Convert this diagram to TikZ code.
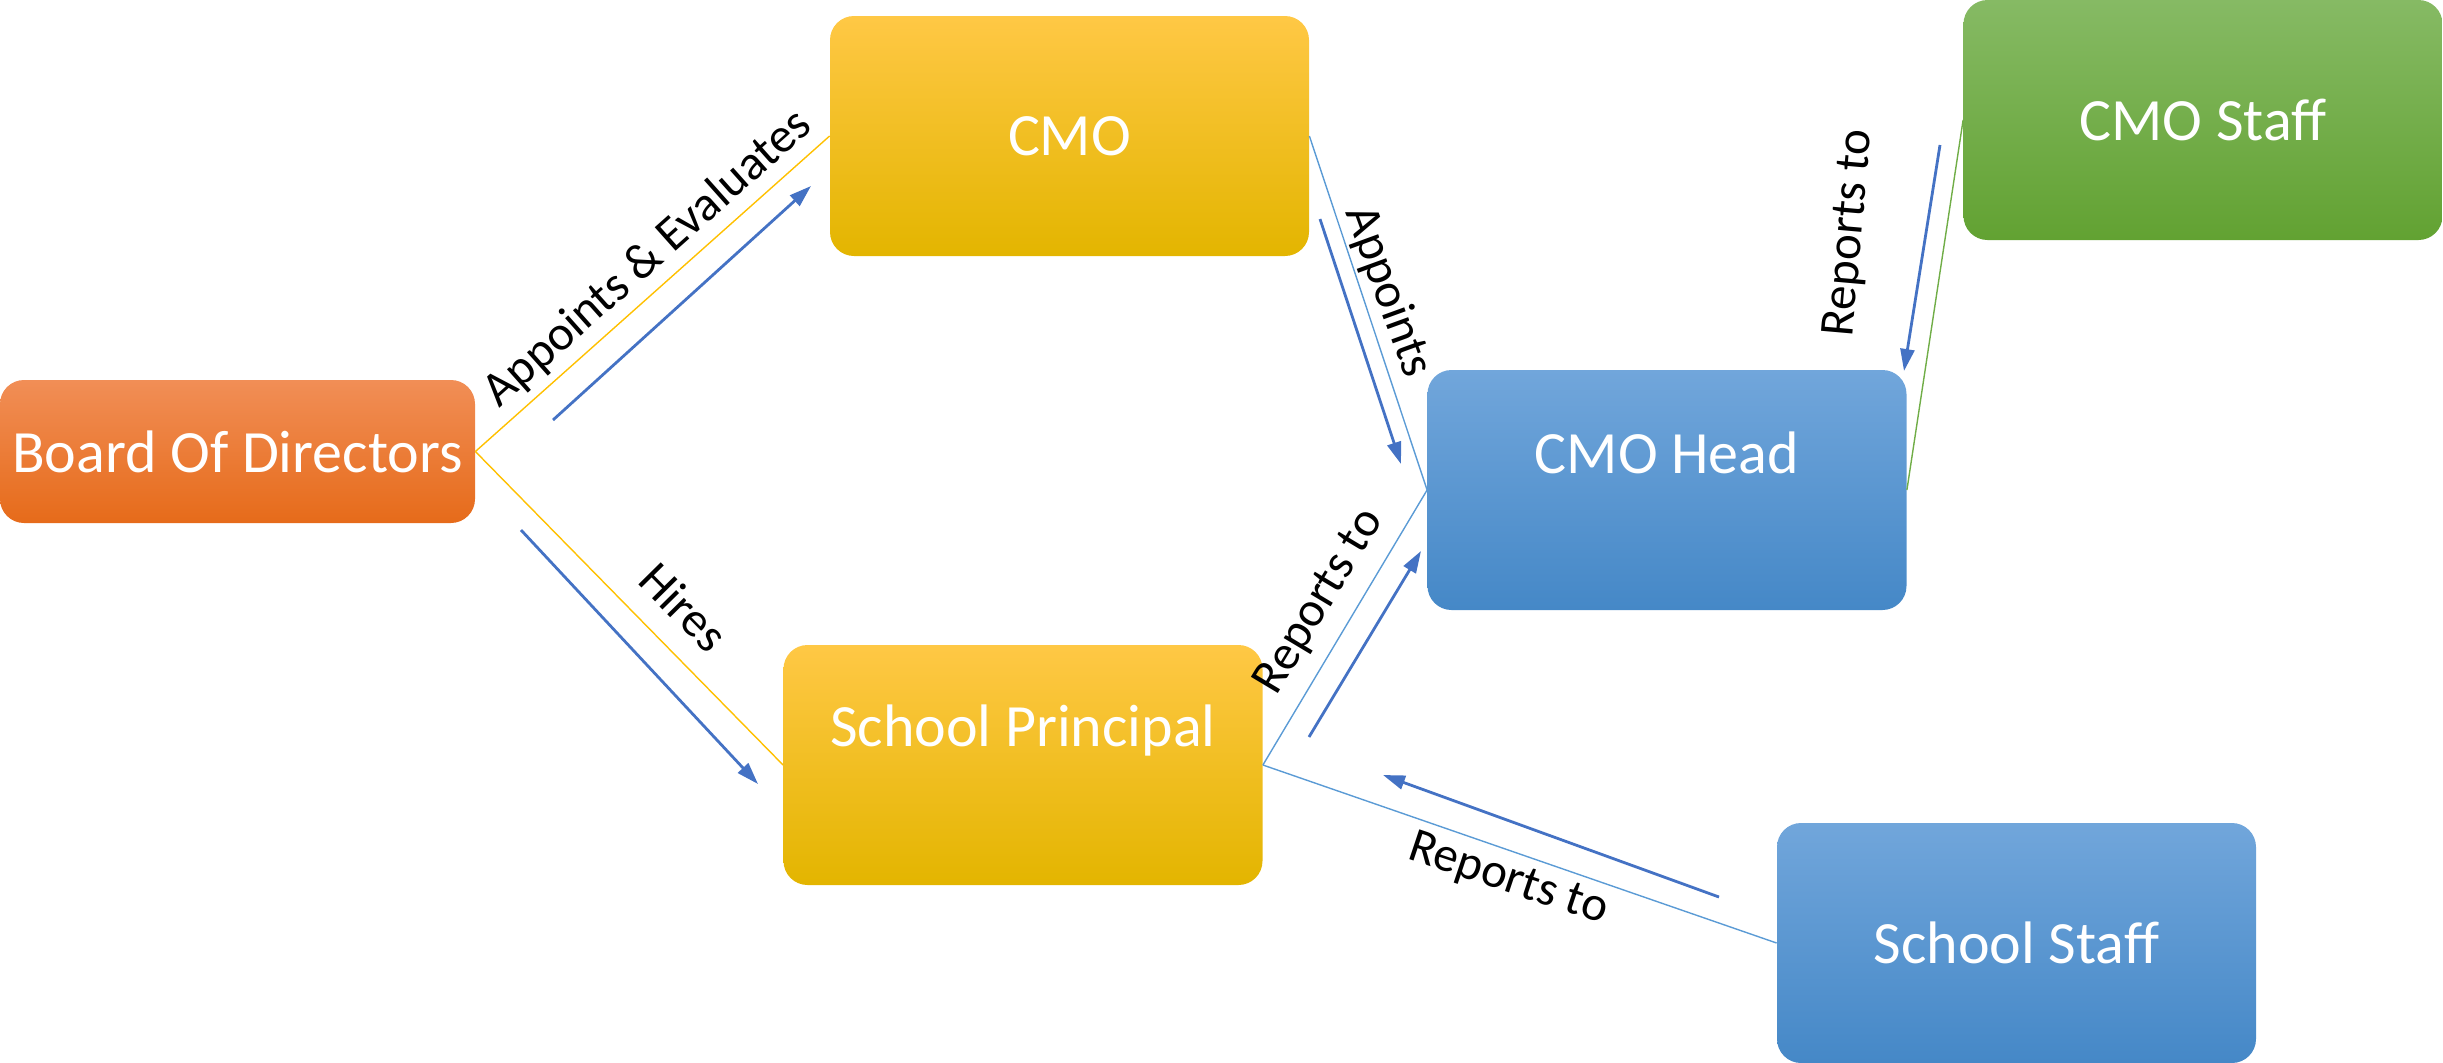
\documentclass[tikz,border=0pt]{standalone}
\usepackage{fontspec}
\setmainfont{Carlito}
\usetikzlibrary{arrows.meta}
\definecolor{orT}{HTML}{F18E56}
\definecolor{orB}{HTML}{E66B1A}
\definecolor{yeT}{HTML}{FFC845}
\definecolor{yeM}{HTML}{FFC500}
\definecolor{yeB}{HTML}{E3B500}
\definecolor{blT}{HTML}{71A6DB}
\definecolor{blM}{HTML}{5A9BD8}
\definecolor{blB}{HTML}{4588C7}
\definecolor{grT}{HTML}{86BA64}
\definecolor{grM}{HTML}{70AE42}
\definecolor{grB}{HTML}{62A232}
\definecolor{arrowblue}{HTML}{4472C4}
\definecolor{linkblue}{HTML}{5B9BD5}
\definecolor{linkyellow}{HTML}{FFC000}
\definecolor{linkgreen}{HTML}{70AD47}
\begin{document}
\begin{tikzpicture}[x=0.5pt,y=-0.5pt,
  box/.style={rounded corners=12pt, inner sep=0pt, draw=none, text=white,
    minimum width=239.5pt, minimum height=120pt, font=\fontsize{30}{36}\selectfont},
  orangebox/.style={box, top color=orT, bottom color=orB},
  yellowbox/.style={box, top color=yeT, middle color=yeM, bottom color=yeB},
  bluebox/.style={box, top color=blT, middle color=blM, bottom color=blB},
  greenbox/.style={box, top color=grT, middle color=grM, bottom color=grB},
  boxtext/.style={text=white, font=\fontsize{30}{36}\selectfont, inner sep=0pt},
  link/.style={line width=0.7pt},
  flow/.style={line width=1.4pt, draw=arrowblue, -{Triangle[length=11pt,width=7pt]}},
  lab/.style={font=\fontsize{24.5}{29}\selectfont, text=black, inner sep=0pt}
]
\useasboundingbox (0,0) rectangle (2443,1062);

% boxes
\node[orangebox, minimum width=237.5pt, minimum height=71.5pt] (board) at (237.5,451.5) {Board Of Directors};
\node[yellowbox] (cmo) at (1069.5,136) {CMO};
\node[bluebox] (head) at (1667,490) {};
\node[boxtext] (headtxt) at (1667,453) {CMO Head};
\node[greenbox] (cstaff) at (2203,120) {CMO Staff};
\node[yellowbox] (princ) at (1023,765) {};
\node[boxtext] (princtxt) at (1023,730) {School Principal};
\node[bluebox] (sstaff) at (2016.5,943) {School Staff};

% thin connectors
\draw[link, draw=linkyellow] (board.east) -- (cmo.west);
\draw[link, draw=linkyellow] (board.east) -- (princ.west);
\draw[link, draw=linkblue] (cmo.east) -- (head.west);
\draw[link, draw=linkgreen] (head.east) -- (cstaff.west);
\draw[link, draw=linkblue] (princ.east) -- (head.west);
\draw[link, draw=linkblue] (princ.east) -- (sstaff.west);

% flow arrows
\coordinate (a1s) at (553,420);   \coordinate (a1e) at (811,186);
\coordinate (a2s) at (521,530);   \coordinate (a2e) at (758,784);
\coordinate (a3s) at (1320,219);  \coordinate (a3e) at (1401,464);
\coordinate (a4s) at (1940,145);  \coordinate (a4e) at (1904,371);
\coordinate (a5s) at (1309,737);  \coordinate (a5e) at (1421,551);
\coordinate (a6s) at (1719,897);  \coordinate (a6e) at (1383,775);
\draw[flow] (a1s) -- (a1e);
\draw[flow] (a2s) -- (a2e);
\draw[flow] (a3s) -- (a3e);
\draw[flow] (a4s) -- (a4e);
\draw[flow] (a5s) -- (a5e);
\draw[flow] (a6s) -- (a6e);

% labels
\node[lab, rotate=41.7] (l1) at (648,259) {Appoints \& Evaluates};
\node[lab, rotate=-45.4] (l2) at (684,607) {Hires};
\node[lab, rotate=-70] (l3) at (1388,292) {Appoints};
\node[lab, rotate=85] (l4) at (1850,233) {Reports to};
\node[lab, rotate=59] (l5) at (1320,602) {Reports to};
\node[lab, rotate=-18.5] (l6) at (1508,880) {Reports to};
\end{tikzpicture}
\end{document}
